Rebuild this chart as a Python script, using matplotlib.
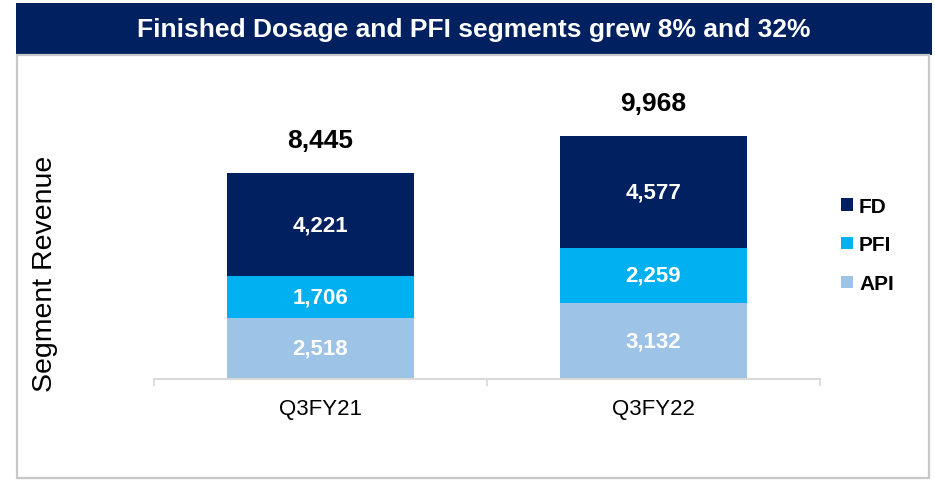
import matplotlib.pyplot as plt
from matplotlib.patches import Rectangle

plt.rcParams["font.family"] = ["Liberation Sans", "DejaVu Sans"]

# data
quarters = ["Q3FY21", "Q3FY22"]
api = [2518, 3132]
pfi = [1706, 2259]
fd = [4221, 4577]
totals = [8445, 9968]

TITLE = "Finished Dosage and PFI segments grew 8% and 32%"
NAVY = "#002060"
PFI_BLUE = "#00B0F0"
API_BLUE = "#9DC3E6"
AXIS_GRAY = "#D9D9D9"
FRAME_GRAY = "#C8C8C8"

W, H = 935, 481
fig = plt.figure(figsize=(W / 100, H / 100), dpi=100)


def fx(px):
    return px / W


def fy(py):
    return 1 - py / H


# title banner + frame
fig.patches.append(Rectangle((fx(16), fy(56)), fx(932) - fx(16), fy(4) - fy(56),
                             transform=fig.transFigure, facecolor=NAVY,
                             edgecolor="none", zorder=0))
fig.patches.append(Rectangle((fx(17), fy(479)), fx(929) - fx(17), fy(56) - fy(479),
                             transform=fig.transFigure, facecolor="none",
                             edgecolor=FRAME_GRAY, linewidth=1.6, zorder=0))
fig.text(fx(474), fy(30), TITLE, color="white", fontsize=19, fontweight="bold",
         ha="center", va="center")

# plot area
ax = fig.add_axes([fx(154), fy(380), fx(820) - fx(154), fy(60) - fy(380)])
x = range(len(quarters))
width = 0.56
b_api = ax.bar(x, api, width, color=API_BLUE, label="API")
b_pfi = ax.bar(x, pfi, width, bottom=api, color=PFI_BLUE, label="PFI")
bottom3 = [a + p for a, p in zip(api, pfi)]
b_fd = ax.bar(x, fd, width, bottom=bottom3, color=NAVY, label="FD")

for cont in (b_api, b_pfi, b_fd):
    ax.bar_label(cont, labels=[f"{v:,}" for v in cont.datavalues],
                 label_type="center", color="white", fontsize=16,
                 fontweight="bold")

for xi, t in zip(x, totals):
    ax.annotate(f"{t:,}", (xi, t), xytext=(0, 24), textcoords="offset points",
                ha="center", va="center", fontsize=19, fontweight="bold",
                color="black")

ax.set_xlim(-0.5, len(quarters) - 0.5)
ax.set_ylim(0, 13125)
ax.set_xticks(list(x))
ax.set_xticklabels(quarters, fontsize=16)
ax.set_xticks([-0.5, 0.5, 1.5], minor=True)
ax.tick_params(axis="x", which="major", length=0, pad=14)
ax.tick_params(axis="x", which="minor", length=5, width=1.2, color=AXIS_GRAY)
ax.set_yticks([])
for s in ("top", "right", "left"):
    ax.spines[s].set_visible(False)
ax.spines["bottom"].set_color(AXIS_GRAY)
ax.spines["bottom"].set_linewidth(1.5)
ax.set_facecolor("none")

fig.text(fx(45), fy(274), "Segment Revenue", rotation=90, fontsize=20.5,
         ha="center", va="center")

handles = [b_fd, b_pfi, b_api]
fig.legend(handles, ["FD", "PFI", "API"], loc="center left",
           bbox_to_anchor=(fx(833), fy(246)), frameon=False,
           prop={"size": 15, "weight": "bold"}, handlelength=0.55,
           handleheight=0.55, handletextpad=0.3, labelspacing=0.95,
           borderaxespad=0)

fig.savefig("out.png", dpi=100)
